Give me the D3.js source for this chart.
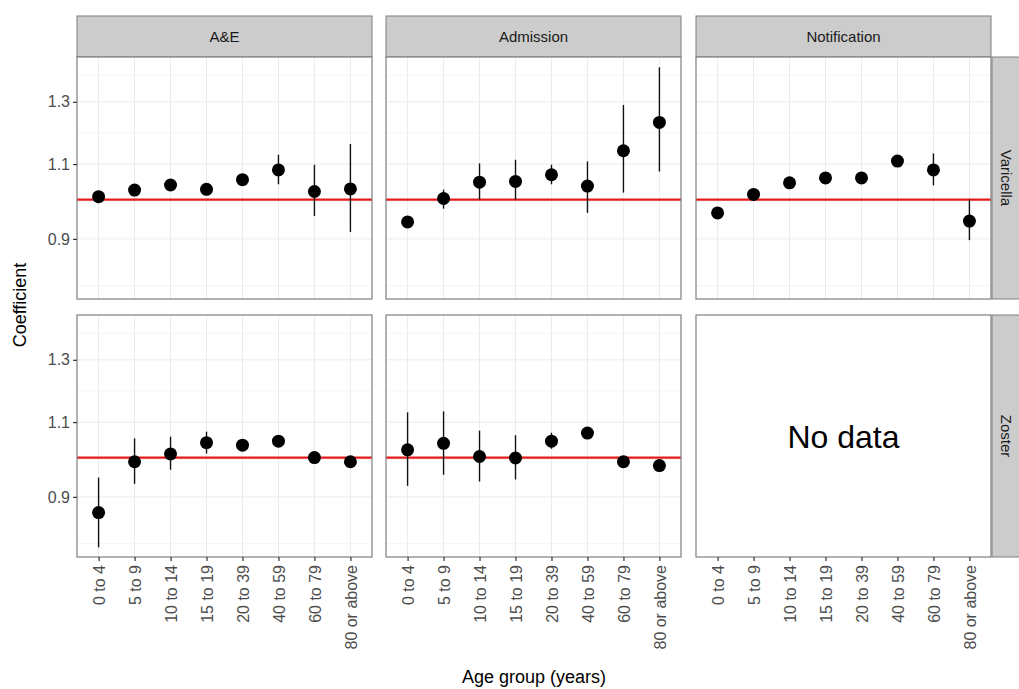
<!DOCTYPE html>
<html><head><meta charset="utf-8">
<script src="https://cdn.jsdelivr.net/npm/d3@7"></script>
<style>body{margin:0;background:#fff}text{font-family:Arial,"Liberation Sans",sans-serif}</style>
</head><body><div id="container"></div>
<script>
var ages = ["0 to 4","5 to 9","10 to 14","15 to 19","20 to 39","40 to 59","60 to 79","80 or above"];
var sources = ["A&E","Admission","Notification"];
var diseases = ["Varicella","Zoster"];
// estimate, lower, upper per age group
var aeVarEst = [1.008,1.026,1.04,1.028,1.055,1.083,1.022,1.029];
var aeVarLo  = [1.002,1.020,1.034,1.022,1.049,1.042,0.957,0.917];
var aeVarHi  = [1.014,1.032,1.046,1.034,1.061,1.128,1.098,1.161];
var adVarEst = [0.942,1.003,1.048,1.05,1.069,1.037,1.14,1.23];
var adVarLo  = [0.932,0.976,1.0,1.0,1.042,0.965,1.019,1.078];
var adVarHi  = [0.952,1.027,1.102,1.113,1.098,1.108,1.289,1.426];
var noVarEst = [0.965,1.014,1.046,1.06,1.06,1.109,1.083,0.944];
var noVarLo  = [0.96,1.009,1.041,1.055,1.055,1.104,1.039,0.897];
var noVarHi  = [0.97,1.019,1.051,1.065,1.065,1.114,1.132,1.0];
var aeZosEst = [0.863,0.989,1.01,1.041,1.034,1.045,1.0,0.989];
var aeZosLo  = [0.786,0.932,0.968,1.011,1.029,1.04,0.995,0.984];
var aeZosHi  = [0.948,1.053,1.058,1.072,1.039,1.05,1.005,0.994];
var adZosEst = [1.021,1.039,1.003,0.999,1.045,1.068,0.989,0.979];
var adZosLo  = [0.927,0.955,0.938,0.943,1.024,1.063,0.984,0.974];
var adZosHi  = [1.129,1.132,1.075,1.062,1.069,1.073,0.994,0.984];
var yTicks = [0.9,1.1,1.3];
var yMinor = [0.794,0.995,1.196,1.396];

var panels = [
  {col:0,row:0,est:aeVarEst,lo:aeVarLo,hi:aeVarHi},
  {col:1,row:0,est:adVarEst,lo:adVarLo,hi:adVarHi},
  {col:2,row:0,est:noVarEst,lo:noVarLo,hi:noVarHi},
  {col:0,row:1,est:aeZosEst,lo:aeZosLo,hi:aeZosHi},
  {col:1,row:1,est:adZosEst,lo:adZosLo,hi:adZosHi},
  {col:2,row:1,est:null}
];

var W=1019,H=689;
var colX=[77,386,696], pw=295;
var rowY=[57,315], ph=242;
var svg=d3.select("#container").append("svg").attr("width",W).attr("height",H);

var y=d3.scaleLog().domain([0.766,1.466]).range([ph,0]);
var x=d3.scalePoint().domain(ages).range([0,pw]).padding(0.6);

// strips
sources.forEach(function(s,i){
  var g=svg.append("g").attr("transform","translate("+colX[i]+",16)");
  g.append("rect").attr("width",pw).attr("height",41).attr("fill","#cccccc").attr("stroke","#7f7f7f");
  g.append("text").attr("x",pw/2).attr("y",26).attr("text-anchor","middle").attr("font-size",15).attr("fill","#1a1a1a").text(s);
});
diseases.forEach(function(s,i){
  var g=svg.append("g").attr("transform","translate(992,"+rowY[i]+")");
  g.append("rect").attr("width",28).attr("height",ph).attr("fill","#cccccc").attr("stroke","#7f7f7f");
  g.append("text").attr("transform","translate(9,"+ph/2+") rotate(90)").attr("text-anchor","middle").attr("font-size",15).attr("fill","#1a1a1a").text(s);
});

panels.forEach(function(p){
  var g=svg.append("g").attr("transform","translate("+colX[p.col]+","+rowY[p.row]+")");
  g.append("rect").attr("width",pw).attr("height",ph).attr("fill","#fff");
  if(p.est){
    g.selectAll(".mn").data(yMinor).enter().append("line").attr("x1",0).attr("x2",pw)
      .attr("y1",y).attr("y2",y).attr("stroke","#f5f5f5").attr("stroke-width",1);
    g.selectAll(".mj").data(yTicks).enter().append("line").attr("x1",0).attr("x2",pw)
      .attr("y1",y).attr("y2",y).attr("stroke","#ebebeb").attr("stroke-width",1);
    g.selectAll(".vx").data(ages).enter().append("line").attr("y1",0).attr("y2",ph)
      .attr("x1",x).attr("x2",x).attr("stroke","#ebebeb").attr("stroke-width",1);
    g.append("line").attr("x1",0).attr("x2",pw).attr("y1",y(1)).attr("y2",y(1))
      .attr("stroke","#e41a1c").attr("stroke-width",2.2);
    var d=ages.map(function(a,i){return {a:a,e:p.est[i],l:p.lo[i],h:p.hi[i]};});
    g.selectAll(".eb").data(d).enter().append("line").attr("x1",function(v){return x(v.a);}).attr("x2",function(v){return x(v.a);})
      .attr("y1",function(v){return y(v.l);}).attr("y2",function(v){return y(v.h);}).attr("stroke","#111").attr("stroke-width",1.4);
    g.selectAll(".pt").data(d).enter().append("circle").attr("cx",function(v){return x(v.a);}).attr("cy",function(v){return y(v.e);})
      .attr("r",6.5).attr("fill","#000");
  } else {
    g.append("text").attr("x",pw/2).attr("y",ph/2+12).attr("text-anchor","middle")
      .attr("font-family","'Open Sans',sans-serif").attr("font-size",32).attr("fill","#000").text("No data");
  }
  g.append("rect").attr("width",pw).attr("height",ph).attr("fill","none").attr("stroke","#7f7f7f").attr("stroke-width",1.2);
  if(p.col===0){
    var ya=d3.axisLeft(y).tickValues(yTicks).tickFormat(d3.format(".1f")).tickSize(4);
    var ag=g.append("g").call(ya);
    ag.select(".domain").remove();
    ag.selectAll("line").attr("stroke","#333").attr("stroke-width",1.2);
    ag.selectAll("text").attr("font-size",16).attr("fill","#4d4d4d").attr("font-family","Arial,'Liberation Sans',sans-serif");
  }
  if(p.row===1){
    var xa=d3.axisBottom(x).tickSize(4);
    var xg=g.append("g").attr("transform","translate(0,"+ph+")").call(xa);
    xg.select(".domain").remove();
    xg.selectAll("line").attr("stroke","#333").attr("stroke-width",1.2);
    xg.selectAll("text").attr("font-size",16).attr("fill","#4d4d4d").attr("font-family","Arial,'Liberation Sans',sans-serif")
      .attr("transform","rotate(-90)").attr("text-anchor","end").attr("x",-8).attr("y",0).attr("dy","0.35em");
  }
});

svg.append("text").attr("transform","translate(26,"+(305)+") rotate(-90)").attr("text-anchor","middle")
  .attr("font-size",18).attr("fill","#000").text("Coefficient");
svg.append("text").attr("x",534).attr("y",683).attr("text-anchor","middle")
  .attr("font-size",18).attr("fill","#000").text("Age group (years)");
</script></body></html>
